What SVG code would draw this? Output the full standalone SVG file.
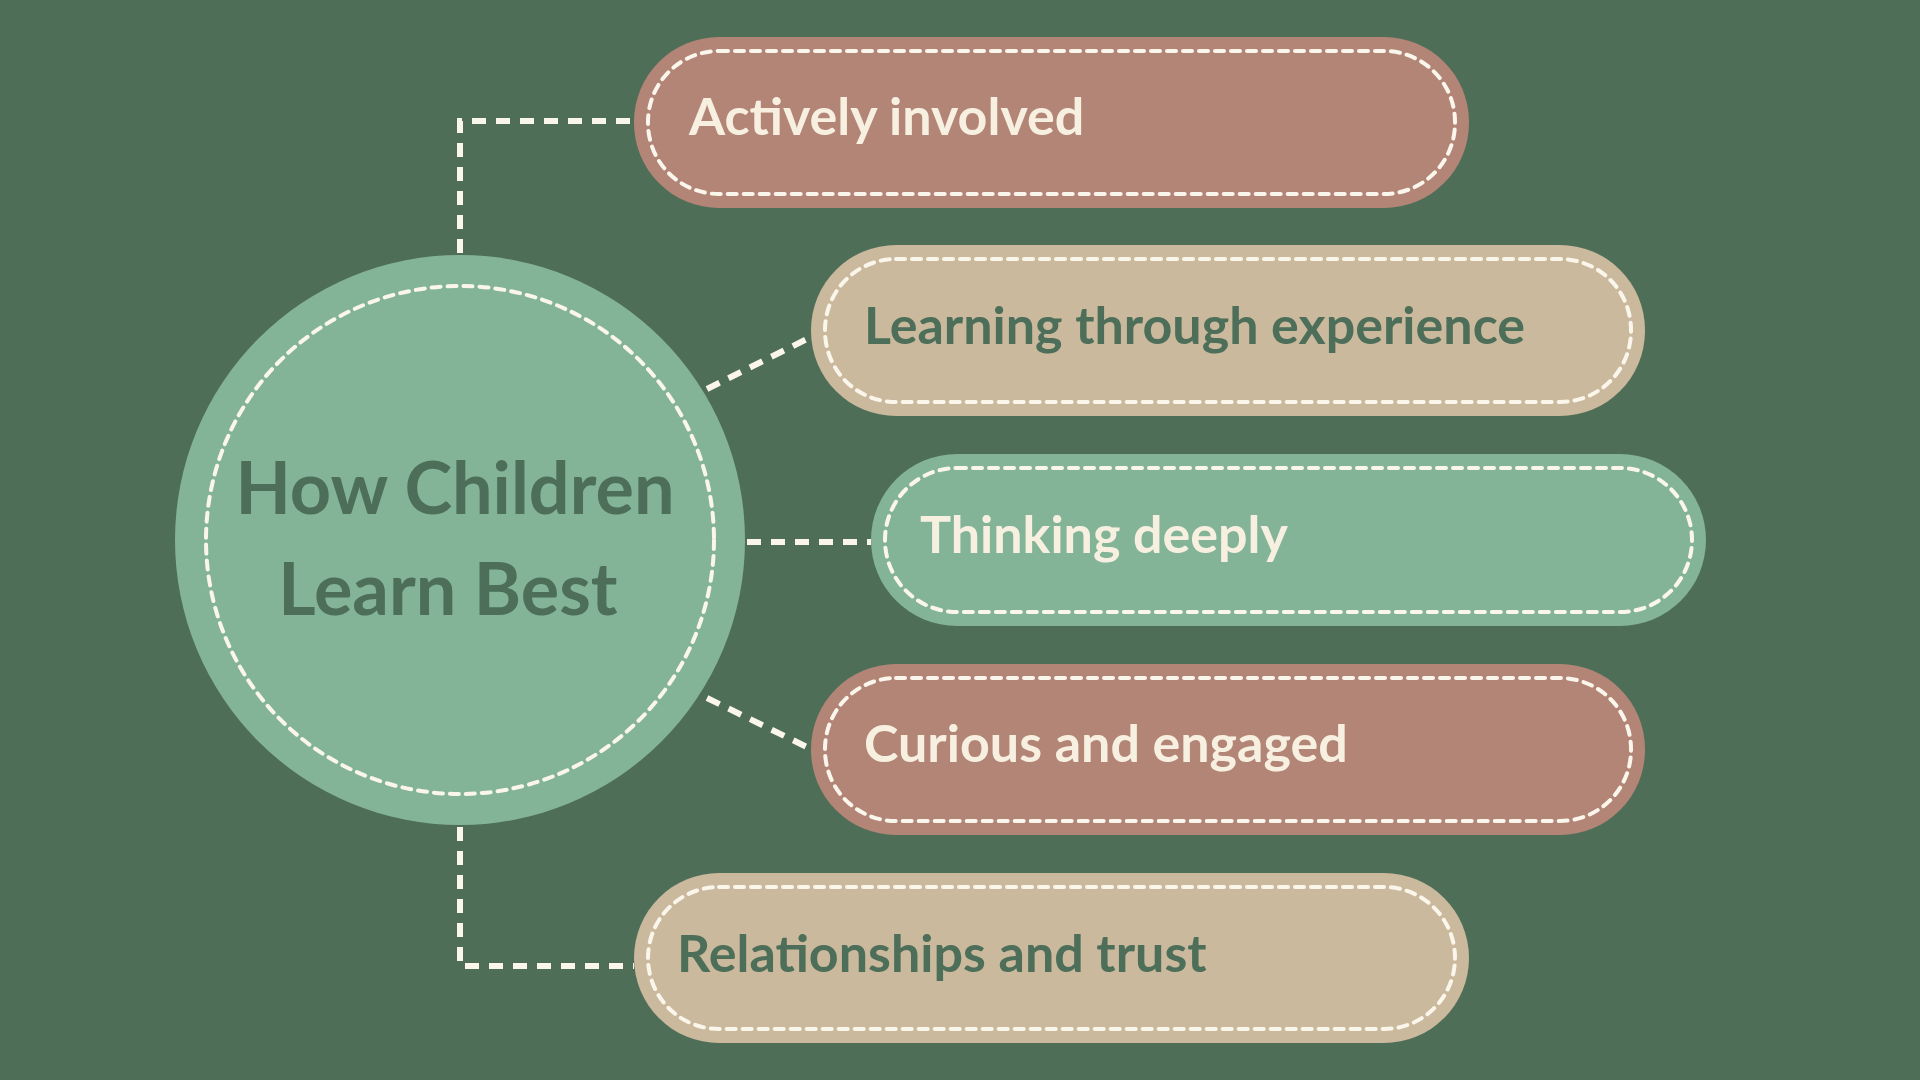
<svg xmlns="http://www.w3.org/2000/svg" width="1920" height="1080" viewBox="0 0 1920 1080">
<style>
.dash{fill:none;stroke:#fbf6ec;stroke-width:4;stroke-dasharray:9 7;stroke-linecap:round}
.con{fill:none;stroke:#fbf6ec;stroke-width:6;stroke-dasharray:14 10}
.t{font-family:Lato,"Liberation Sans",sans-serif;font-weight:bold;font-size:52px}
.dk{fill:#4d6e59}.lt{fill:#f7f0e1}
.rose{fill:#b38576}.tan{fill:#cbb99d}.grn{fill:#84b497}
</style>
<rect width="1920" height="1080" fill="#4e6e58"/>
<g id="connectors">
<path class="con" d="M460 253 V121 H634"/>
<path class="con" d="M460 827 V966 H634"/>
<path class="con" d="M707 389 L811 337"/>
<path class="con" d="M707 698 L811 749"/>
<path class="con" d="M747 542 H871"/>
</g>
<g id="center">
<circle cx="460" cy="540" r="285" class="grn"/>
<circle cx="460" cy="540" r="254" class="dash"/>
<text x="455" y="514" text-anchor="middle" class="t dk" font-size="72" style="font-size:72px">How Children</text>
<text x="448" y="615" text-anchor="middle" class="t dk" style="font-size:72px">Learn Best</text>
</g>
<g id="n1"><rect x="634" y="37" width="835" height="171" rx="85" class="rose"/><rect x="648" y="51" width="807" height="143" rx="71" class="dash"/><text x="689" y="135" class="t lt">Actively involved</text></g>
<g id="n2"><rect x="811" y="245" width="834" height="171" rx="85" class="tan"/><rect x="825" y="259" width="806" height="143" rx="71" class="dash"/><text x="864" y="344" class="t dk">Learning through experience</text></g>
<g id="n3"><rect x="871" y="454" width="835" height="172" rx="86" class="grn"/><rect x="885" y="468" width="807" height="144" rx="72" class="dash"/><text x="920" y="553" class="t lt">Thinking deeply</text></g>
<g id="n4"><rect x="811" y="664" width="834" height="171" rx="85" class="rose"/><rect x="825" y="678" width="806" height="143" rx="71" class="dash"/><text x="864" y="762" class="t lt">Curious and engaged</text></g>
<g id="n5"><rect x="634" y="873" width="835" height="170" rx="85" class="tan"/><rect x="648" y="887" width="807" height="142" rx="71" class="dash"/><text x="677" y="972" class="t dk">Relationships and trust</text></g>
</svg>
